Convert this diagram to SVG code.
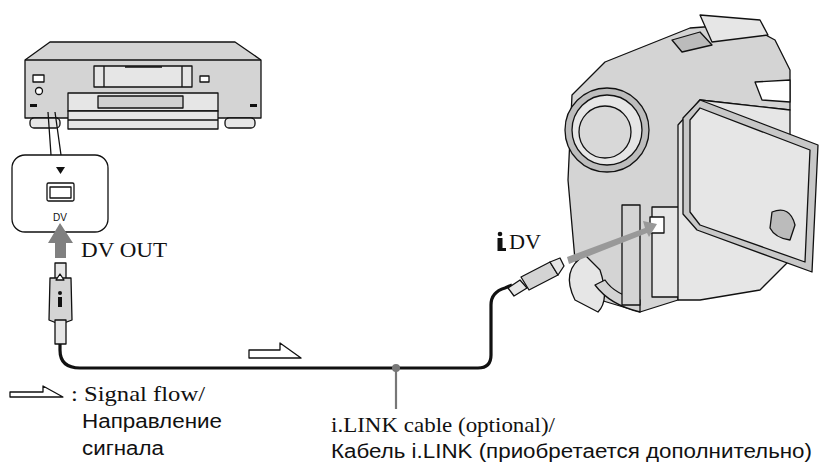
<svg xmlns="http://www.w3.org/2000/svg" width="832" height="467" viewBox="0 0 832 467">
<style>
.o{stroke:#111;stroke-width:1.3;stroke-linejoin:round}
.g{fill:#d4d4d4}.l{fill:#e6e6e6}.w{fill:#fff}
.serif{font-family:"Liberation Serif",serif;fill:#111}
.sans{font-family:"Liberation Sans",sans-serif;fill:#111}
</style>
<rect width="832" height="467" fill="#fff"/>
<g id="vcr">
<path class="o g" d="M50 42H235L261 60V118H25V60Z"/>
<path class="o" fill="none" d="M25 60H261"/>
<rect class="o l" x="30" y="118" width="30" height="10" rx="4"/>
<rect class="o l" x="225" y="118" width="30" height="10" rx="4"/>
<rect class="o l" x="94" y="66" width="98" height="21"/>
<path class="o" d="M104 66V87M182 66V87M125 67H162" fill="none"/>
<rect class="o w" x="33" y="75" width="11" height="7"/>
<circle class="o w" cx="39" cy="91" r="3.5"/>
<rect class="o w" x="200" y="76" width="9" height="6"/>
<rect class="o l" x="68" y="93" width="150" height="18"/>
<rect class="o" fill="#d0d0d0" x="98" y="96" width="85" height="12"/>
<rect class="o l" x="68" y="111" width="150" height="18"/>
<path class="o" d="M68 120H218" fill="none"/>
<rect x="30" y="104" width="7" height="3" fill="#111"/>
<rect x="250" y="104" width="7" height="3" fill="#111"/>
</g>
<g id="dv-port">
<path class="o" fill="none" d="M48 112L51 155M55 112L61 155"/>
<rect class="o w" x="12" y="155" width="96" height="77" rx="13"/>
<path d="M56 167H65L60.5 174Z" fill="#111"/>
<rect class="o w" x="47" y="183" width="27" height="18" rx="1.5"/>
<rect class="o w" x="50" y="187" width="21" height="11"/>
<text class="sans" x="60" y="221" font-size="10" text-anchor="middle">DV</text>
<path d="M60 223L73 243H66V258H55V243H48Z" fill="#808080"/>
<text class="serif" x="81" y="257" font-size="21" textLength="86" lengthAdjust="spacingAndGlyphs">DV OUT</text>
</g>
<g id="plug-left">
<rect class="o l" x="55" y="263" width="11" height="16"/>
<path class="o g" d="M50 278H71L72 320Q60 326 49 320Z"/>
<path class="o" d="M56 280L60 274L64 280Z" fill="#fff"/>
<circle cx="60" cy="293" r="2" fill="#111"/>
<rect x="58" y="297" width="4" height="10" fill="#111"/>
<rect class="o l" x="55" y="320" width="11" height="24"/>
</g>
<g id="camcorder">
<path class="o g" d="M572 95L605 62L690 28L745 24L775 40L790 70V110L700 100L680 125L678 300L640 312L600 300L575 260L568 180Z"/>
<path class="o l" d="M585 255Q560 270 575 300L598 312Q610 300 600 270Z"/>
<path class="o g" d="M595 285Q610 305 640 312V300Q615 295 605 280Z"/>
<rect class="o l" x="652" y="207" width="27" height="90"/>
<rect class="o" fill="#fff" x="650" y="217" width="14" height="16"/>
<path class="o g" d="M622 205H640V305H622Z"/>
<path class="o l" d="M678 125L700 100L790 110V260L760 290L700 300L678 300Z"/>
<path class="o l" d="M700 15L760 20L768 35L712 42Z"/>
<path class="o" fill="#bbb" d="M672 40L700 32L712 45L682 52Z"/>
<path class="o w" d="M755 82L790 80V102L762 100Z"/>
<circle class="o" fill="#bdbdbd" cx="607" cy="130" r="42"/>
<circle class="o l" cx="607" cy="130" r="35"/>
<circle class="o" fill="#d8d8d8" cx="605" cy="132" r="26"/>
<path class="o" fill="#c8c8c8" d="M683 118L700 100L818 145L812 272L697 230L683 214Z"/>
<path class="o l" d="M690 120L700 108L810 150L805 262L700 225L690 212Z"/>
<path class="o" fill="#bbb" d="M772 212Q790 205 795 225L790 240Q775 238 770 228Z"/>
</g>
<g id="connectors">
<path d="M60 344V350Q60 368 80 368H478Q491 368 491 355V305Q491 292 505 288L512 285" fill="none" stroke="#111" stroke-width="3.2"/>
<path class="o w" d="M249 350H280V343L301 358H249Z"/>
<path class="o w" d="M10 392H43V386L63 397H10Z"/>
<path d="M396 368V409" stroke="#777" stroke-width="2.2"/>
<circle cx="396" cy="368" r="4" fill="#777"/>
<path d="M567 257L645 228L643 221L657 224L649 237L647 233L569 264Z" fill="#999"/>
</g>
<g id="plug-right">
<path class="o l" d="M508 288L520 280L527 288L514 296Z"/>
<path class="o g" d="M521 277L550 262L558 275L529 290Z"/>
<path class="o l" d="M550 262L560 258L564 266L558 275Z"/>
</g>
<g id="labels">
<circle cx="500" cy="234" r="2.3" fill="#111"/>
<path d="M497.5 238H502.5V248H506V251H497.5Z" fill="#111"/>
<text class="serif" x="509" y="249" font-size="21" textLength="32" lengthAdjust="spacingAndGlyphs">DV</text>
<text class="serif" x="71" y="401" font-size="22" textLength="134" lengthAdjust="spacingAndGlyphs">: Signal flow/</text>
<text class="sans" x="82" y="428" font-size="20" textLength="140" lengthAdjust="spacingAndGlyphs">Направление</text>
<text class="sans" x="82" y="455" font-size="20" textLength="82" lengthAdjust="spacingAndGlyphs">сигнала</text>
<text class="serif" x="331" y="432" font-size="22" textLength="224" lengthAdjust="spacingAndGlyphs">i.LINK cable (optional)/</text>
<text class="sans" x="331" y="458" font-size="20" textLength="481" lengthAdjust="spacingAndGlyphs">Кабель i.LINK (приобретается дополнительно)</text>
</g>
</svg>
